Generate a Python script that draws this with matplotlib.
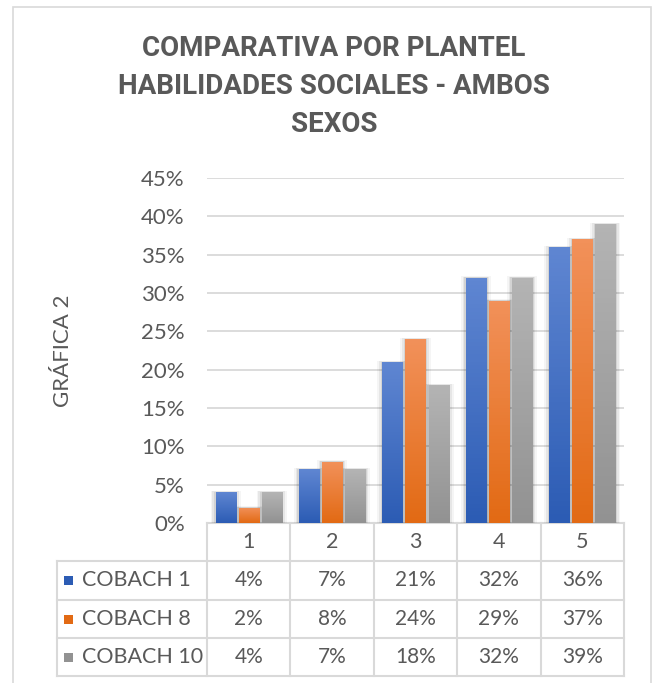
import matplotlib.pyplot as plt
import numpy as np
from matplotlib.colors import LinearSegmentedColormap
from matplotlib.patches import Rectangle
from matplotlib.transforms import blended_transform_factory

# data
categories = ['1', '2', '3', '4', '5']
series = ['COBACH 1', 'COBACH 8', 'COBACH 10']
cobach1 = [4, 7, 21, 32, 36]
cobach8 = [2, 8, 24, 29, 37]
cobach10 = [4, 7, 18, 32, 39]
values = [cobach1, cobach8, cobach10]

# gradient colours (top, bottom) per series
grads = [('#5F86D2', '#2C5CB4'), ('#F2915A', '#E26A14'), ('#B4B4B4', '#929292')]
solid = ['#4472C4', '#ED7D31', '#A5A5A5']

text_col = '#595959'
grid_col = '#D9D9D9'
W, H = 652, 683

plt.rcParams['font.family'] = ['Lato', 'DejaVu Sans']

fig = plt.figure(figsize=(W / 100, H / 100), dpi=100)

def fx(px):
    return px / W

def fy(py):
    return 1 - py / H

# chart border
fig.patches.append(Rectangle((fx(13), fy(700)), fx(651 - 13), (700 - 7) / H,
                             transform=fig.transFigure, fill=False,
                             edgecolor=grid_col, lw=1.2))

ax = fig.add_axes([fx(207), fy(523), fx(624 - 207), (523 - 178) / H])

x = np.arange(len(categories))
width = 0.24
offsets = [-0.276, 0, 0.276]

for vals, off, (top, bot), c in zip(values, offsets, grads, solid):
    bars = ax.bar(x + off, np.array(vals) / 100, width, color=c, zorder=3)
    cmap = LinearSegmentedColormap.from_list('g', [bot, top])
    for b in bars:
        bx, by = b.get_x(), b.get_y()
        bw, bh = b.get_width(), b.get_height()
        # soft shadow
        for k, a in [(0.06, 0.04), (0.04, 0.06), (0.02, 0.08)]:
            ax.add_patch(Rectangle((bx - k, by), bw + 2 * k, bh + k * 0.03,
                                   color='black', alpha=a, lw=0, zorder=2))
        im = ax.imshow(np.linspace(0, 1, 64).reshape(-1, 1), cmap=cmap,
                       origin='lower', extent=[bx, bx + bw, by, by + bh],
                       aspect='auto', zorder=4)
        im.set_clip_path(b)

ax.set_xlim(-0.5, 4.5)
ax.set_ylim(0, 0.45)
ticks = np.arange(0, 0.46, 0.05)
ax.set_yticks(ticks)
ax.set_yticklabels([f'{int(round(v * 100))}%' for v in ticks],
                   fontsize=16, color=text_col)
ax.tick_params(axis='y', length=0, pad=16)
ax.set_xticks([])
ax.grid(axis='y', color=grid_col, lw=1.3, zorder=0)
ax.set_axisbelow(True)
for s in ax.spines.values():
    s.set_visible(False)

# y label
fig.text(fx(63), fy(351), 'GRÁFICA 2', rotation=90, ha='center', va='center',
         fontsize=16, color=text_col)

# title
fig.text(fx(334), fy(86.5), 'COMPARATIVA POR PLANTEL\nHABILIDADES SOCIALES - AMBOS\nSEXOS',
         ha='center', va='center', multialignment='center', linespacing=1.54,
         fontsize=20, fontweight='bold', color=text_col,
         family=['Roboto', 'DejaVu Sans'])

# data table
tr = blended_transform_factory(ax.transData, fig.transFigure)
row_y = [523, 561, 600, 638, 676]
left_col = -0.5 - (207 - 57) / ((624 - 207) / 5)

for i, yy in enumerate(row_y):
    x0 = -0.5 if i == 0 else left_col
    ax.plot([x0, 4.5], [fy(yy), fy(yy)], transform=tr, color=grid_col, lw=1.5,
            clip_on=False, zorder=1)
for b in np.arange(-0.5, 4.6, 1):
    ax.plot([b, b], [fy(523), fy(676)], transform=tr, color=grid_col, lw=1.5,
            clip_on=False)
ax.plot([left_col, left_col], [fy(561), fy(676)], transform=tr, color=grid_col,
        lw=1.5, clip_on=False)

for i, cat in enumerate(categories):
    ax.text(i, fy(542), cat, transform=tr, ha='center', va='center',
            fontsize=15.5, color=text_col)

centers = [580.5, 619, 657]
for r, (name, vals, c) in enumerate(zip(series, values, solid)):
    cy = centers[r]
    fig.patches.append(Rectangle((fx(64), fy(cy + 4.5)), fx(9), 9 / H,
                                 transform=fig.transFigure, color=grads[r][1], lw=0))
    fig.text(fx(82), fy(cy), name, ha='left', va='center', fontsize=15.5,
             color=text_col)
    for i, v in enumerate(vals):
        ax.text(i, fy(cy), f'{v}%', transform=tr, ha='center', va='center',
                fontsize=15, color=text_col)

fig.savefig('out.png', dpi=100)
